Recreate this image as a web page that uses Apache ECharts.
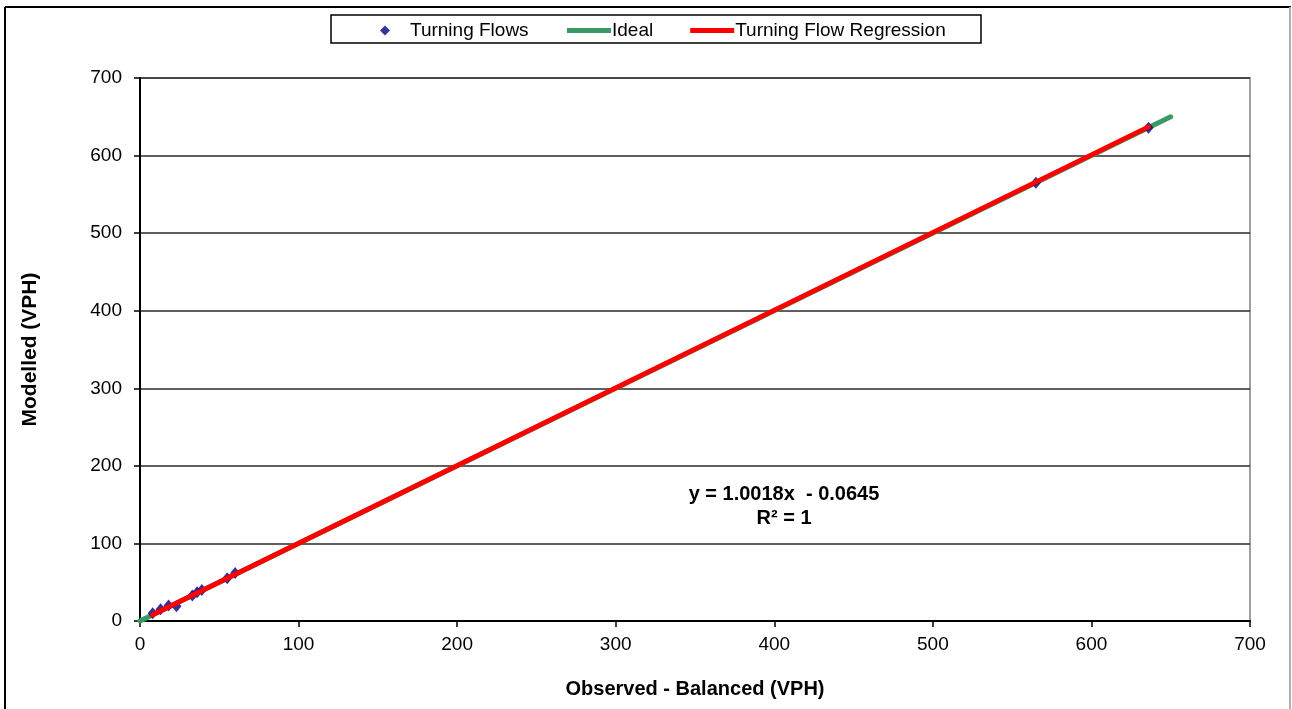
<!DOCTYPE html>
<html>
<head>
<meta charset="utf-8">
<script src="https://cdn.jsdelivr.net/npm/echarts@6/dist/echarts.min.js"></script>
<style>
html,body{margin:0;padding:0;background:#fff;}
#c{width:1292px;height:709px;}
</style>
</head>
<body>
<div id="c"></div>
<script>
const observed = [8, 13, 18, 23, 33, 36, 39, 55, 60, 565, 636];
const modelled = [10, 15, 20, 19, 33, 37, 40, 55, 62, 565, 636];
const idealX = [0, 650];
const idealY = [0, 650];
const regX = [8, 636];
const regY = [8, 637];
const xTicks = [0, 100, 200, 300, 400, 500, 600, 700];
const yTicks = [0, 100, 200, 300, 400, 500, 600, 700];
const equationText = 'y = 1.0018x  - 0.0645';
const r2Text = 'R² = 1';

const zip = (a, b) => a.map((v, i) => [v, b[i]]);
const font = '"Liberation Sans", Arial, sans-serif';

const chart = echarts.init(document.getElementById('c'), null, {renderer: 'canvas'});
chart.setOption({
  animation: false,
  backgroundColor: '#fff',
  grid: {left: 140, right: 42, top: 78, bottom: 88, show: true, borderColor: '#a0a0a0', borderWidth: 2, backgroundColor: 'transparent'},
  xAxis: {
    type: 'value', min: xTicks[0], max: xTicks[xTicks.length - 1], interval: 100,
    name: 'Observed - Balanced (VPH)', nameLocation: 'middle', nameGap: 58,
    nameTextStyle: {fontFamily: font, fontSize: 20, fontWeight: 'bold', color: '#000'},
    axisLine: {onZero: false, lineStyle: {color: '#000', width: 2}},
    axisTick: {show: true, inside: false, length: 6, lineStyle: {color: '#000', width: 1.5}},
    axisLabel: {fontFamily: font, fontSize: 19, color: '#000', margin: 14},
    splitLine: {show: false}
  },
  yAxis: {
    type: 'value', min: yTicks[0], max: yTicks[yTicks.length - 1], interval: 100,
    name: 'Modelled (VPH)', nameLocation: 'middle', nameGap: 99, nameRotate: 90,
    nameTextStyle: {fontFamily: font, fontSize: 21, fontWeight: 'bold', color: '#000'},
    axisLine: {onZero: false, lineStyle: {color: '#000', width: 2}},
    axisTick: {show: true, inside: false, length: 6, lineStyle: {color: '#000', width: 1.5}},
    axisLabel: {fontFamily: font, fontSize: 19, color: '#000', margin: 18},
    splitLine: {show: true, lineStyle: {color: '#2a2a2a', width: 1.5}}
  },
  legend: [
    {
      data: [{name: 'Turning Flows', icon: 'diamond'}],
      left: 375, top: 16, itemWidth: 10, itemHeight: 10, itemGap: 0,
      textStyle: {fontFamily: font, fontSize: 19, color: '#000', padding: [0, 0, 0, 15]}
    },
    {
      data: [{name: 'Ideal', icon: 'rect'}, {name: 'Turning Flow Regression', icon: 'rect'}],
      left: 562, top: 16, itemWidth: 44, itemHeight: 5, itemGap: 37,
      textStyle: {fontFamily: font, fontSize: 19, color: '#000', padding: [0, 0, 0, -4]}
    }
  ],
  graphic: [
    {type: 'rect', shape: {x: 331, y: 15, width: 650, height: 28}, style: {fill: 'none', stroke: '#000', lineWidth: 1.5}, z: -1},
    {type: 'line', shape: {x1: 5, y1: 7, x2: 5, y2: 709}, style: {stroke: '#000', lineWidth: 2}},
    {type: 'line', shape: {x1: 5, y1: 7, x2: 1291, y2: 7}, style: {stroke: '#000', lineWidth: 2}},
    {type: 'line', shape: {x1: 1290, y1: 7, x2: 1290, y2: 709}, style: {stroke: '#b0b0b0', lineWidth: 2}},
    {type: 'text', x: 784, y: 494, style: {text: equationText, fontFamily: font, fontSize: 20, fontWeight: 'bold', fill: '#000', textAlign: 'center', textVerticalAlign: 'middle'}},
    {type: 'text', x: 784, y: 518, style: {text: r2Text, fontFamily: font, fontSize: 20, fontWeight: 'bold', fill: '#000', textAlign: 'center', textVerticalAlign: 'middle'}}
  ],
  series: [
    {
      name: 'Ideal', type: 'line', data: zip(idealX, idealY), showSymbol: false, symbol: 'none',
      lineStyle: {color: '#3b9a63', width: 5, cap: 'round'}, itemStyle: {color: '#3b9a63'}, z: 2
    },
    {
      name: 'Turning Flows', type: 'scatter', data: zip(observed, modelled), symbol: 'diamond', symbolSize: [10, 12],
      itemStyle: {color: '#000080'}, z: 3
    },
    {
      name: 'Turning Flow Regression', type: 'line', data: zip(regX, regY), showSymbol: false, symbol: 'none',
      lineStyle: {color: '#ff0000', width: 5, cap: 'round'}, itemStyle: {color: '#ff0000'}, z: 4
    }
  ]
});
</script>
</body>
</html>
